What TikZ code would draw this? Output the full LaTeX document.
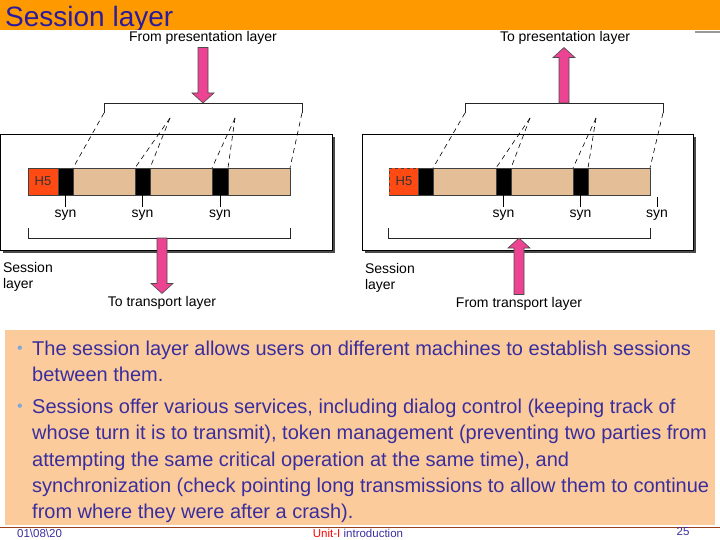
\documentclass[tikz,border=0pt]{standalone}
\usepackage{fontspec}
\setmainfont{Liberation Sans}
\usetikzlibrary{arrows.meta, positioning, calc}
\definecolor{barorange}{HTML}{FF9900}
\definecolor{titleblue}{HTML}{2A1C9C}
\definecolor{bodyblue}{HTML}{3A2E9E}
\definecolor{dotblue}{HTML}{7FA8D8}
\definecolor{notetan}{HTML}{FCCB9C}
\definecolor{arrowpink}{HTML}{EC4492}
\definecolor{headred}{HTML}{FF4A14}
\definecolor{pkttan}{HTML}{E3BE96}
\definecolor{shadowgrey}{HTML}{4A4A4A}
\definecolor{footred}{HTML}{A0401A}

% fat pink arrow, vertical, tip at #2
\newcommand{\pinkarrow}[2]{%
  \filldraw[fatarrow] let \p1=(#1), \p2=(#2), \n1={sign(\y2-\y1)} in
    ({\x1-5pt},\y1) -- ({\x1-5pt},{\y2-\n1*10pt}) -- ({\x1-11pt},{\y2-\n1*10pt})
    -- (\x1,\y2) -- ({\x1+11pt},{\y2-\n1*10pt}) -- ({\x1+5pt},{\y2-\n1*10pt})
    -- ({\x1+5pt},\y1) -- cycle;}

\begin{document}
\begin{tikzpicture}[
    x=1pt, y=-1pt,
    lbl/.style={font=\fontsize{14}{16}\selectfont, inner sep=0pt, outer sep=3pt},
    title/.style={font=\fontsize{28}{30}\selectfont, text=titleblue, inner sep=0pt, anchor=base west},
    seg/.style={draw=black!75, minimum height=27pt, inner sep=0pt, outer sep=0pt, anchor=north west},
    syncblk/.style={seg, fill=black, minimum width=15pt},
    headbox/.style={seg, fill=headred, minimum width=30pt, font=\fontsize{13}{13}\selectfont, text=black!80},
    fan/.style={dashed, dash pattern=on 5pt off 4pt, semithick},
    bracket/.style={thick, black!85},
    fatarrow/.style={fill=arrowpink, draw=black!70, line width=0.6pt},
    bodytext/.style={font=\fontsize{20}{26.2}\selectfont, text=bodyblue, align=left, inner sep=0pt, anchor=north west},
    dot/.style={font=\fontsize{16}{16}\selectfont, text=dotblue, inner sep=0pt},
    foot/.style={font=\fontsize{11.5}{12}\selectfont, text=bodyblue, inner sep=0pt}
  ]
  \useasboundingbox (0,0) rectangle (720,540);

  % ===== title bar =====
  \fill[barorange] (0,0) rectangle (720,30);
  \node[title] (heading) at (5,27) {Session layer};
  \fill[white] (0,30) rectangle (695,328);
  \draw[black!40, line width=2pt] (695,32) -- (720,32);

  % ===== left: sending side =====
  \fill[shadowgrey] (3,137) rectangle (335,253);
  \draw[fill=white] (0.5,134) rectangle (332,250);

  \node[lbl] (fromPL) at (203,38) {From presentation layer};
  \coordinate (tlL) at (104,113);
  \coordinate (trL) at (302,113);
  \coordinate (tcL) at (203,103);
  \draw[bracket] (tlL) -- ++(0,-10) -| (trL);
  \pinkarrow{fromPL.south}{tcL}

  \node[seg, fill=pkttan, minimum width=262pt] (pktL) at (28,168) {};
  \node[headbox] (hL) at (28,168) {H5};
  \node[syncblk] (s1L) at (58,168) {};
  \node[syncblk] (s2L) at (135,168) {};
  \node[syncblk, minimum width=16pt] (s3L) at (212,168) {};

  \coordinate (f2L) at (170,118);
  \coordinate (f3L) at (235,118);
  \draw[fan] (tlL) -- (s1L.north east);
  \draw[fan] (f2L) -- (s2L.north west);
  \draw[fan] (f2L) -- (s2L.north east);
  \draw[fan] (f3L) -- (s3L.north west);
  \draw[fan] (f3L) -- (s3L.north east);
  \draw[fan] (trL) -- (pktL.north east);

  \foreach \s in {s1L, s2L, s3L}
    \draw (\s.south) -- ++(0,12) node[lbl, below=0pt] {syn};

  \coordinate (blL) at (28,228);
  \coordinate (brL) at (290,228);
  \coordinate (bcL) at (162,238);
  \draw[bracket] (blL) -- ++(0,10) -| (brL);
  \node[lbl] (toTL) at (162,303) {To transport layer};
  \pinkarrow{bcL}{toTL.north}
  \node[lbl, align=left, anchor=north west, inner sep=0pt] (sessL) at (0,259) {Session\\layer};

  % ===== right: receiving side =====
  \fill[shadowgrey] (365,137) rectangle (696,253);
  \draw[fill=white] (362,134) rectangle (693,250);

  \node[lbl] (toPR) at (565,38) {To presentation layer};
  \coordinate (tlR) at (465,113);
  \coordinate (trR) at (663,113);
  \coordinate (tcR) at (564,103);
  \draw[bracket] (tlR) -- ++(0,-10) -| (trR);
  \pinkarrow{tcR}{toPR.south}

  \node[seg, fill=pkttan, minimum width=261pt] (pktR) at (389,168) {};
  \node[headbox, dashed] (hR) at (389,168) {H5};
  \node[syncblk] (s1R) at (418,168) {};
  \node[syncblk] (s2R) at (496,168) {};
  \node[syncblk] (s3R) at (573,168) {};

  \coordinate (f2R) at (530,118);
  \coordinate (f3R) at (596,118);
  \draw[fan] (tlR) -- (s1R.north east);
  \draw[fan] (f2R) -- (s2R.north west);
  \draw[fan] (f2R) -- (s2R.north east);
  \draw[fan] (f3R) -- (s3R.north west);
  \draw[fan] (f3R) -- (s3R.north east);
  \draw[fan] (trR) -- (pktR.north east);

  \foreach \s in {s2R, s3R}
    \draw (\s.south) -- ++(0,12) node[lbl, below=0pt] {syn};
  \coordinate (endR) at ($(pktR.south east)+(7,2)$);
  \draw (endR) -- ++(0,10) node[lbl, below=0pt] {syn};

  \coordinate (blR) at (388,228);
  \coordinate (brR) at (650,228);
  \coordinate (bcR) at (519,238);
  \draw[bracket] (blR) -- ++(0,10) -| (brR);
  \node[lbl] (fromTR) at (519,304) {From transport layer};
  \pinkarrow{fromTR.north}{bcR}
  \node[lbl, align=left, anchor=north west, inner sep=0pt] (sessR) at (362,260) {Session\\layer};

  % ===== notes =====
  \fill[notetan] (5,330) rectangle (715,525);
  \node[dot] (dot1) at (20,350) {•};
  \node[bodytext] (b1) at (32,341)
    {The session layer allows users on different machines to establish sessions\\
     between them.};
  \node[dot] (dot2) at (20,408) {•};
  \node[bodytext] (b2) at (32,399)
    {Sessions offer various services, including dialog control (keeping track of\\
     whose turn it is to transmit), token management (preventing two parties from\\
     attempting the same critical operation at the same time), and\\
     synchronization (check pointing long transmissions to allow them to continue\\
     from where they were after a crash).};

  % ===== footer =====
  \draw[footred, thin] (0,527) -- (720,527);
  \node[foot, anchor=west] (date) at (17,533) {01\textbackslash 08\textbackslash 20};
  \node[foot] (unit) at (358,533) {\textcolor{red}{Unit-I} introduction};
  \node[foot] (page) at (683,532) {25};
\end{tikzpicture}
\end{document}
